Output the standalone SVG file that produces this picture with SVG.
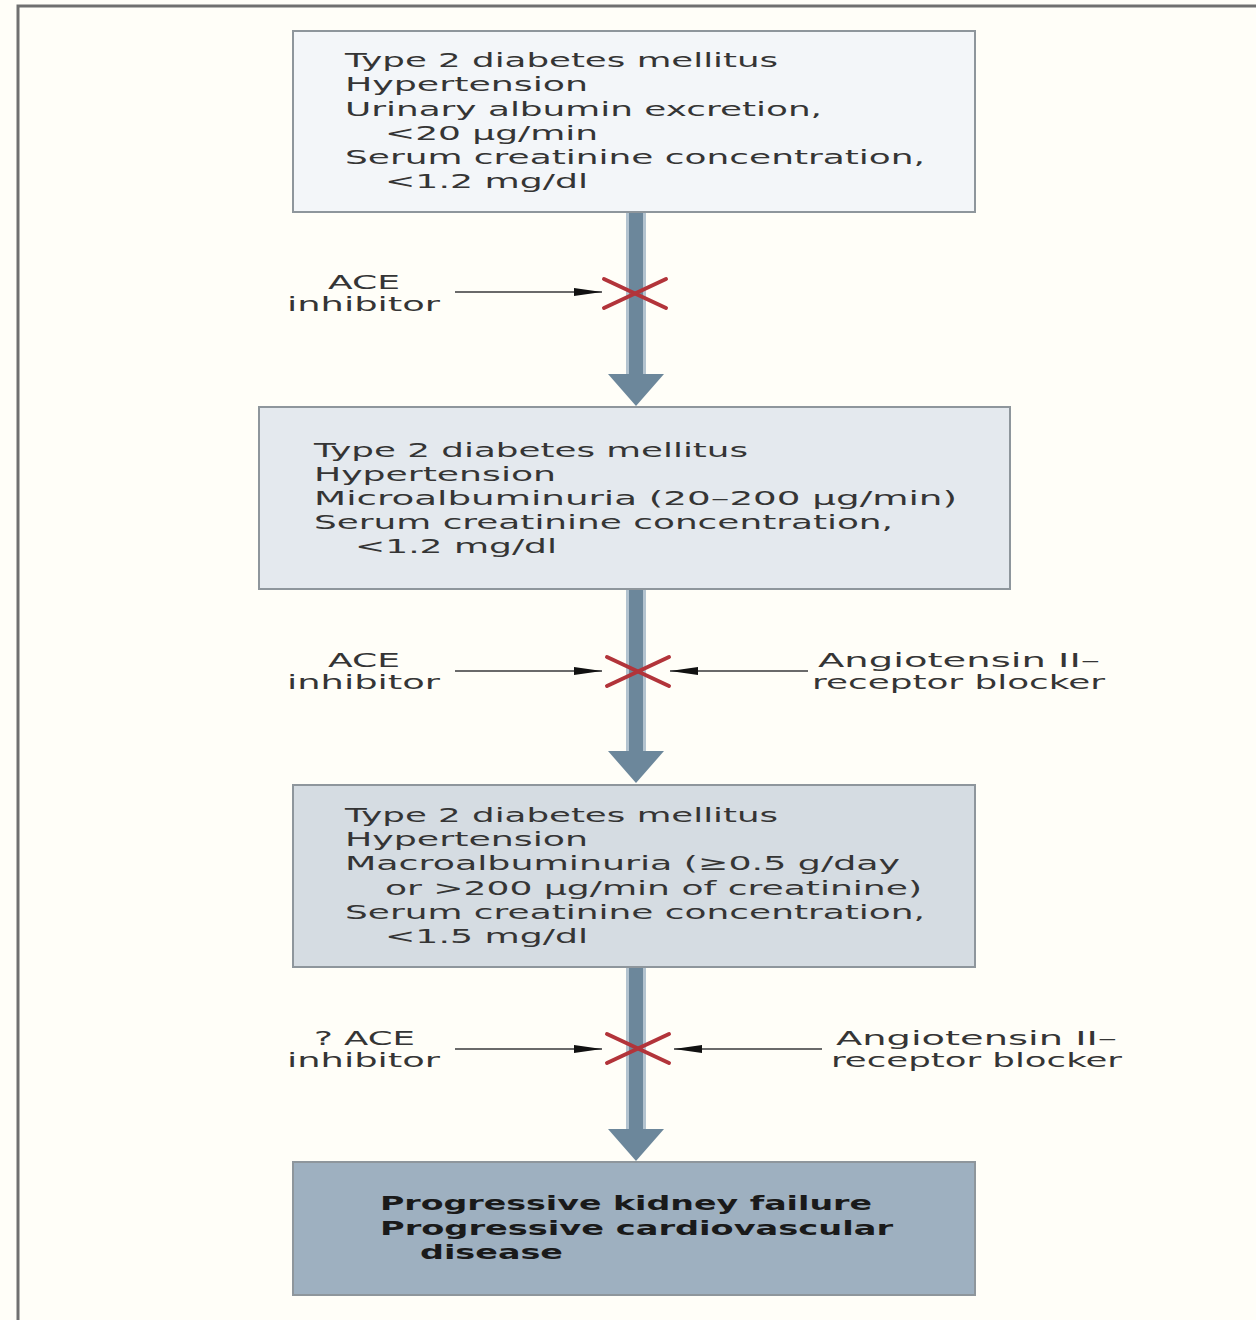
<svg xmlns="http://www.w3.org/2000/svg" width="1256" height="1320" viewBox="0 0 1256 1320">
<defs>
<style>
.bg{fill:#fffef8}
.frame{fill:none;stroke:#707070;stroke-width:3}
.box{stroke:#8e969c;stroke-width:2}
.t{font-family:"DejaVu Sans","Liberation Sans",sans-serif;font-size:20px;fill:#353535}
.tb{font-family:"DejaVu Sans","Liberation Sans",sans-serif;font-size:20px;font-weight:bold;fill:#1a1a1a}
.lab{font-family:"DejaVu Sans","Liberation Sans",sans-serif;font-size:19px;fill:#353535}
.shaft{fill:#6c879b}
.shaftedge{fill:#b3c3cf}
.head{fill:#6c879b}
.xmark{stroke:#b2343a;stroke-width:4;stroke-linecap:round}
.conn{stroke:#6a6a6a;stroke-width:2;fill:none}
</style>
<marker id="ah" markerUnits="userSpaceOnUse" markerWidth="30" markerHeight="10" refX="28" refY="5" orient="auto">
<path d="M0,1 L28,5 L0,9 Z" fill="#111"/>
</marker>
</defs>
<rect class="bg" x="0" y="0" width="1256" height="1320"/>
<rect class="frame" x="18" y="6" width="1260" height="1340"/>

<g id="flow-arrows">
<rect class="shaftedge" x="626" y="212" width="20" height="164"/>
<rect class="shaft" x="629" y="212" width="14" height="164"/>
<path class="head" d="M608,374 L664,374 L636,406 Z"/>
<rect class="shaftedge" x="626" y="589" width="20" height="164"/>
<rect class="shaft" x="629" y="589" width="14" height="164"/>
<path class="head" d="M608,751 L664,751 L636,783 Z"/>
<rect class="shaftedge" x="626" y="967" width="20" height="164"/>
<rect class="shaft" x="629" y="967" width="14" height="164"/>
<path class="head" d="M608,1129 L664,1129 L636,1161 Z"/>
</g>

<g id="node1">
<rect class="box" x="293" y="31" width="682" height="181" fill="#f3f6f9"/>
<text class="t" x="345" y="67" textLength="433" lengthAdjust="spacingAndGlyphs">Type 2 diabetes mellitus</text>
<text class="t" x="345" y="91" textLength="243" lengthAdjust="spacingAndGlyphs">Hypertension</text>
<text class="t" x="345" y="116" textLength="477" lengthAdjust="spacingAndGlyphs">Urinary albumin excretion,</text>
<text class="t" x="385" y="140" textLength="213" lengthAdjust="spacingAndGlyphs">&lt;20 μg/min</text>
<text class="t" x="345" y="164" textLength="580" lengthAdjust="spacingAndGlyphs">Serum creatinine concentration,</text>
<text class="t" x="385" y="188" textLength="203" lengthAdjust="spacingAndGlyphs">&lt;1.2 mg/dl</text>
</g>

<g id="node2">
<rect class="box" x="259" y="407" width="751" height="182" fill="#e4e9ee"/>
<text class="t" x="314" y="457" textLength="434" lengthAdjust="spacingAndGlyphs">Type 2 diabetes mellitus</text>
<text class="t" x="314" y="481" textLength="242" lengthAdjust="spacingAndGlyphs">Hypertension</text>
<text class="t" x="314" y="505" textLength="643" lengthAdjust="spacingAndGlyphs">Microalbuminuria (20–200 μg/min)</text>
<text class="t" x="314" y="529" textLength="579" lengthAdjust="spacingAndGlyphs">Serum creatinine concentration,</text>
<text class="t" x="355" y="553" textLength="202" lengthAdjust="spacingAndGlyphs">&lt;1.2 mg/dl</text>
</g>

<g id="node3">
<rect class="box" x="293" y="785" width="682" height="182" fill="#d5dce2"/>
<text class="t" x="345" y="822" textLength="433" lengthAdjust="spacingAndGlyphs">Type 2 diabetes mellitus</text>
<text class="t" x="345" y="846" textLength="243" lengthAdjust="spacingAndGlyphs">Hypertension</text>
<text class="t" x="345" y="870" textLength="555" lengthAdjust="spacingAndGlyphs">Macroalbuminuria (≥0.5 g/day</text>
<text class="t" x="385" y="895" textLength="537" lengthAdjust="spacingAndGlyphs">or &gt;200 μg/min of creatinine)</text>
<text class="t" x="345" y="919" textLength="580" lengthAdjust="spacingAndGlyphs">Serum creatinine concentration,</text>
<text class="t" x="385" y="943" textLength="203" lengthAdjust="spacingAndGlyphs">&lt;1.5 mg/dl</text>
</g>

<g id="node4">
<rect class="box" x="293" y="1162" width="682" height="133" fill="#9eb0c0" stroke="#7f8d99"/>
<text class="tb" x="380" y="1210" textLength="492" lengthAdjust="spacingAndGlyphs">Progressive kidney failure</text>
<text class="tb" x="380" y="1235" textLength="513" lengthAdjust="spacingAndGlyphs">Progressive cardiovascular</text>
<text class="tb" x="420" y="1259" textLength="143" lengthAdjust="spacingAndGlyphs">disease</text>
</g>

<g id="label-ace1">
<text class="lab" x="328" y="289" textLength="72" lengthAdjust="spacingAndGlyphs">ACE</text>
<text class="lab" x="287" y="311" textLength="153" lengthAdjust="spacingAndGlyphs">inhibitor</text>
</g>
<g id="label-ace2">
<text class="lab" x="328" y="667" textLength="72" lengthAdjust="spacingAndGlyphs">ACE</text>
<text class="lab" x="287" y="689" textLength="153" lengthAdjust="spacingAndGlyphs">inhibitor</text>
</g>
<g id="label-arb2">
<text class="lab" x="818" y="667" textLength="282" lengthAdjust="spacingAndGlyphs">Angiotensin II–</text>
<text class="lab" x="812" y="689" textLength="293" lengthAdjust="spacingAndGlyphs">receptor blocker</text>
</g>
<g id="label-ace3">
<text class="lab" x="314" y="1045" textLength="101" lengthAdjust="spacingAndGlyphs">? ACE</text>
<text class="lab" x="287" y="1067" textLength="153" lengthAdjust="spacingAndGlyphs">inhibitor</text>
</g>
<g id="label-arb3">
<text class="lab" x="836" y="1045" textLength="281" lengthAdjust="spacingAndGlyphs">Angiotensin II–</text>
<text class="lab" x="831" y="1067" textLength="291" lengthAdjust="spacingAndGlyphs">receptor blocker</text>
</g>

<g id="blocks">
<line class="xmark" x1="604" y1="279" x2="666" y2="308"/>
<line class="xmark" x1="604" y1="308" x2="666" y2="279"/>
<line class="xmark" x1="607" y1="657" x2="669" y2="686"/>
<line class="xmark" x1="607" y1="686" x2="669" y2="657"/>
<line class="xmark" x1="607" y1="1034" x2="669" y2="1063"/>
<line class="xmark" x1="607" y1="1063" x2="669" y2="1034"/>
</g>

<g id="connectors">
<line class="conn" x1="455" y1="292" x2="602" y2="292" marker-end="url(#ah)"/>
<line class="conn" x1="455" y1="671" x2="602" y2="671" marker-end="url(#ah)"/>
<line class="conn" x1="808" y1="671" x2="670" y2="671" marker-end="url(#ah)"/>
<line class="conn" x1="455" y1="1049" x2="602" y2="1049" marker-end="url(#ah)"/>
<line class="conn" x1="822" y1="1049" x2="674" y2="1049" marker-end="url(#ah)"/>
</g>
</svg>
